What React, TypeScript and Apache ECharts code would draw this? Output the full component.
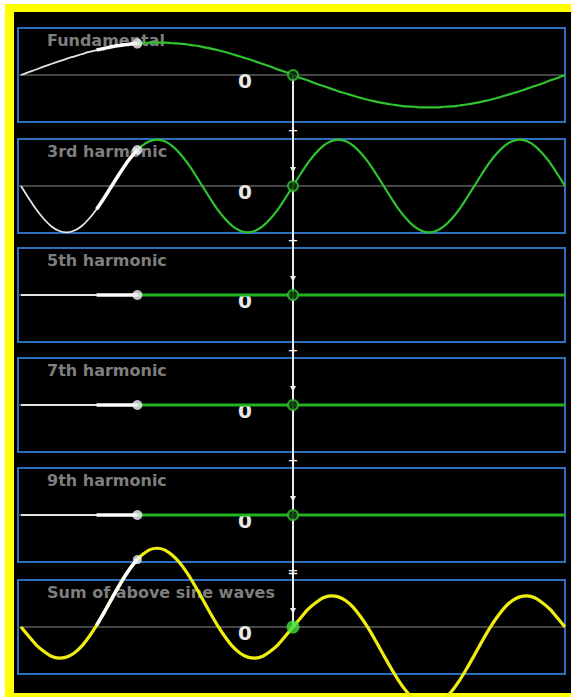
import { useEffect, useRef } from "react";
import * as echarts from "echarts";

// phase of the fundamental, degrees (x axis)
const phaseDeg = [0, 5, 10, 15, 20, 25, 30, 35, 40, 45, 50, 55, 60, 65, 70, 75, 77, 80, 85, 90, 95, 100, 105, 110, 115, 120, 125, 130, 135, 140, 145, 150, 155, 160, 165, 170, 175, 180, 185, 190, 195, 200, 205, 210, 215, 220, 225, 230, 235, 240, 245, 250, 255, 260, 265, 270, 275, 280, 285, 290, 295, 300, 305, 310, 315, 320, 325, 330, 335, 340, 345, 350, 355, 360];

const fundamental = [0, 0.09, 0.17, 0.26, 0.34, 0.42, 0.5, 0.57, 0.64, 0.71, 0.77, 0.82, 0.87, 0.91, 0.94, 0.97, 0.97, 0.98, 1, 1, 1, 0.98, 0.97, 0.94, 0.91, 0.87, 0.82, 0.77, 0.71, 0.64, 0.57, 0.5, 0.42, 0.34, 0.26, 0.17, 0.09, 0, -0.09, -0.17, -0.26, -0.34, -0.42, -0.5, -0.57, -0.64, -0.71, -0.77, -0.82, -0.87, -0.91, -0.94, -0.97, -0.98, -1, -1, -1, -0.98, -0.97, -0.94, -0.91, -0.87, -0.82, -0.77, -0.71, -0.64, -0.57, -0.5, -0.42, -0.34, -0.26, -0.17, -0.09, 0];

const thirdHarmonic = [0, -0.37, -0.72, -1.01, -1.24, -1.38, -1.43, -1.38, -1.24, -1.01, -0.72, -0.37, 0, 0.37, 0.72, 1.01, 1.11, 1.24, 1.38, 1.43, 1.38, 1.24, 1.01, 0.72, 0.37,
  0, -0.37, -0.72, -1.01, -1.24, -1.38, -1.43, -1.38, -1.24, -1.01, -0.72, -0.37, 0, 0.37, 0.72, 1.01, 1.24, 1.38, 1.43, 1.38, 1.24, 1.01, 0.72, 0.37,
  0, -0.37, -0.72, -1.01, -1.24, -1.38, -1.43, -1.38, -1.24, -1.01, -0.72, -0.37, 0, 0.37, 0.72, 1.01, 1.24, 1.38, 1.43, 1.38, 1.24, 1.01, 0.72, 0.37, 0];

const sumOfWaves = [0, -0.28, -0.55, -0.75, -0.9, -0.96, -0.93, -0.81, -0.6, -0.3, 0.05, 0.45, 0.87, 1.28, 1.66, 1.98, 2.08,
  2.22, 2.38, 2.43, 2.38, 2.22, 1.98, 1.66, 1.28, 0.87, 0.45, 0.05, -0.3, -0.6, -0.81, -0.93, -0.96, -0.9, -0.75, -0.55, -0.28, 0,
  0.28, 0.55, 0.75, 0.9, 0.96, 0.93, 0.81, 0.6, 0.3, -0.05, -0.45, -0.87, -1.28, -1.66, -1.98, -2.22, -2.38, -2.43,
  -2.38, -2.22, -1.98, -1.66, -1.28, -0.87, -0.45, -0.05, 0.3, 0.6, 0.81, 0.93, 0.96, 0.9, 0.75, 0.55, 0.28, 0];

// flat harmonics (amplitude zero)
const flatPhaseDeg = [0, 50, 77, 180, 360];
const fifthHarmonic = [0, 0, 0, 0, 0];
const seventhHarmonic = [0, 0, 0, 0, 0];
const ninthHarmonic = [0, 0, 0, 0, 0];

const panelTitles = ["Fundamental", "3rd harmonic", "5th harmonic", "7th harmonic", "9th harmonic", "Sum of above sine waves"];
const operators = ["+", "+", "+", "+", "="];
const penPhase = 77;
const thickPhase = 50;
const cursorPhase = 180;
const zeroLabel = "0";

const panelTops = [28, 139, 248, 358, 468, 580];
const BLUE = "#2f6dbf";
const FONT = "DejaVu Sans";

export default function App() {
  const ref = useRef<HTMLDivElement>(null);

  useEffect(() => {
    const chart = echarts.init(ref.current!, null, { renderer: "svg" });
    const panels = [
      { phase: phaseDeg, vals: fundamental },
      { phase: phaseDeg, vals: thirdHarmonic },
      { phase: flatPhaseDeg, vals: fifthHarmonic },
      { phase: flatPhaseDeg, vals: seventhHarmonic },
      { phase: flatPhaseDeg, vals: ninthHarmonic },
      { phase: phaseDeg, vals: sumOfWaves },
    ];

    const grid = panelTops.map((top) => ({
      left: 18,
      top,
      width: 547,
      height: 94,
      show: true,
      borderColor: BLUE,
      borderWidth: 2,
      backgroundColor: "transparent",
    }));
    const xAxis = panelTops.map((_, i) => ({
      type: "value",
      gridIndex: i,
      min: -2,
      max: 360,
      axisLine: { show: true, onZero: true, lineStyle: { color: "#5c5c5c", width: 1.5 } },
      axisTick: { show: false },
      axisLabel: { show: false },
      splitLine: { show: false },
    }));
    const yAxis = panelTops.map((_, i) => ({
      type: "value",
      gridIndex: i,
      min: -1.45,
      max: 1.45,
      axisLine: { show: false },
      axisTick: { show: false },
      axisLabel: { show: false },
      splitLine: { show: false },
    }));

    const series: any[] = [];
    panels.forEach(({ phase, vals }, i) => {
      const pts = phase.map((x, k) => [x, vals[k]]);
      const pen = phase.indexOf(penPhase);
      const thk = phase.indexOf(thickPhase);
      const cur = phase.indexOf(cursorPhase);
      const traced = pts.slice(0, pen + 1);
      const thick = pts.slice(thk, pen + 1);
      const future = pts.slice(pen);
      const common = { xAxisIndex: i, yAxisIndex: i, symbol: "none", smooth: 0.3, silent: true };
      if (i < 5) {
        series.push({ ...common, type: "line", z: 3, data: traced, lineStyle: { color: "#e4e4e4", width: 1.8 } });
        series.push({ ...common, type: "line", z: 3, data: future, lineStyle: { color: i < 2 ? "#2fc42f" : "#22b322", width: i < 2 ? 2.2 : 3 } });
        series.push({ ...common, type: "line", z: 4, data: thick, lineStyle: { color: "#ffffff", width: 3.5 } });
        series.push({ type: "scatter", xAxisIndex: i, yAxisIndex: i, z: 5, silent: true, symbolSize: 10, data: [pts[pen]], itemStyle: { color: "#f4f4f4" } });
        series.push({ type: "scatter", xAxisIndex: i, yAxisIndex: i, z: 5, silent: true, symbolSize: 10, data: [pts[cur]], itemStyle: { color: "#0a2a0a", borderColor: "#2fc42f", borderWidth: 2 } });
      } else {
        series.push({ ...common, type: "line", z: 3, clip: false, data: pts, lineStyle: { color: "#f0ee10", width: 3.2 } });
        series.push({ ...common, type: "line", z: 4, clip: false, data: thick, lineStyle: { color: "#ffffff", width: 3.5 } });
        series.push({ type: "scatter", xAxisIndex: i, yAxisIndex: i, z: 5, clip: false, silent: true, symbolSize: 9, data: [pts[pen]], itemStyle: { color: "#f4f4f4" } });
        series.push({ type: "scatter", xAxisIndex: i, yAxisIndex: i, z: 5, silent: true, symbolSize: 13, data: [pts[cur]], itemStyle: { color: "#3ee03e" } });
      }
    });

    chart.setOption({
      animation: false,
      backgroundColor: "transparent",
      grid,
      xAxis,
      yAxis,
      series,
    });

    const cursor = panelTops.map((_, i) => chart.convertToPixel({ gridIndex: i } as any, [cursorPhase, 0]) as number[]);
    const graphic: any[] = [];
    graphic.push({
      type: "line",
      z: 1,
      silent: true,
      shape: { x1: cursor[0][0], y1: cursor[0][1], x2: cursor[5][0], y2: cursor[5][1] },
      style: { stroke: "#ececec", lineWidth: 2 },
    });
    operators.forEach((op, i) => {
      const bottom = (chart.convertToPixel({ gridIndex: i } as any, [cursorPhase, -1.45]) as number[])[1];
      const top = (chart.convertToPixel({ gridIndex: i + 1 } as any, [cursorPhase, 1.45]) as number[])[1];
      graphic.push({
        type: "text",
        z: 2,
        silent: true,
        x: cursor[0][0],
        y: (bottom + top) / 2,
        style: { text: op, fill: "#f0f0f0", font: `bold 13px "${FONT}"`, align: "center", verticalAlign: "middle" },
      });
    });
    cursor.forEach((c, i) => {
      if (i > 0) {
        const y = c[1] - 15;
        graphic.push({
          type: "polygon",
          z: 2,
          silent: true,
          shape: { points: [[c[0] - 3, y - 4], [c[0] + 3, y - 4], [c[0], y + 2]] },
          style: { fill: "#eeeeee" },
        });
      }
      graphic.push({
        type: "text",
        z: 2,
        silent: true,
        x: c[0] - 48,
        y: c[1] + 6,
        style: { text: zeroLabel, fill: "#e8e8e8", font: `bold 20px "${FONT}"`, align: "center", verticalAlign: "middle" },
      });
      graphic.push({
        type: "text",
        z: 1,
        silent: true,
        x: 47,
        y: panelTops[i] + 12,
        style: { text: panelTitles[i], fill: "#7e7e7e", font: `bold 16px "${FONT}"`, align: "left", verticalAlign: "middle" },
      });
    });
    chart.setOption({ graphic });

    return () => chart.dispose();
  }, []);

  return (
    <div style={{ position: "absolute", left: 0, top: 0, width: 571, height: 697, background: "#ffffff", overflow: "hidden" }}>
      <div style={{ position: "absolute", left: 5, top: 4, width: 566, height: 693, background: "#ffff00" }} />
      <div style={{ position: "absolute", left: 14, top: 12, width: 557, height: 681, background: "#000000" }} />
      <div ref={ref} style={{ position: "absolute", left: 0, top: 0, width: 571, height: 697 }} />
    </div>
  );
}
